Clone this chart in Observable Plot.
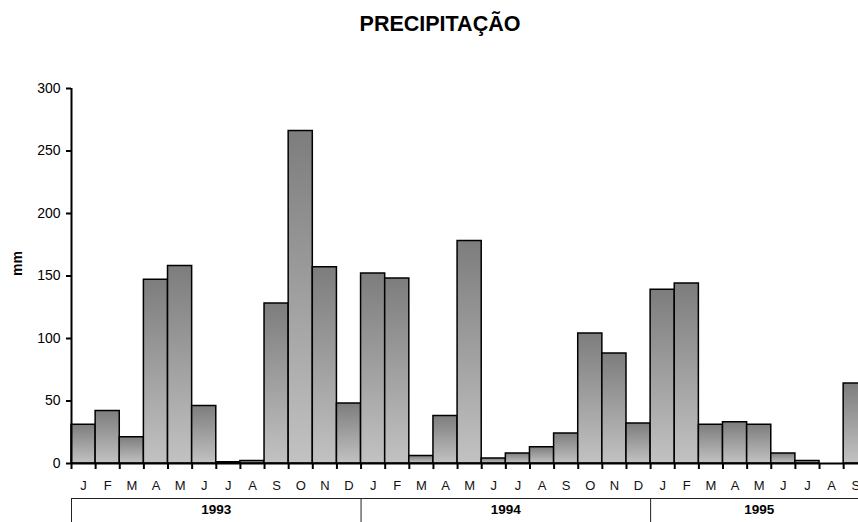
<!DOCTYPE html>
<html>
<head>
<meta charset="utf-8">
<script src="https://cdn.jsdelivr.net/npm/d3@7"></script>
<script src="https://cdn.jsdelivr.net/npm/@observablehq/plot@0.6"></script>
<style>
  html, body { margin: 0; padding: 0; background: #fff; overflow: hidden; }
  #chart svg { overflow: hidden; }
</style>
</head>
<body>
<div id="chart"></div>
<script>
// Monthly precipitation (mm), January 1993 – September 1995
const monthLetters = ["J", "F", "M", "A", "M", "J", "J", "A", "S", "O", "N", "D"];
const years = [1993, 1994, 1995];
const precip1993 = [31, 42, 21, 147, 158, 46, 1, 2, 128, 266, 157, 48];
const precip1994 = [152, 148, 6, 38, 178, 4, 8, 13, 24, 104, 88, 32];
const precip1995 = [139, 144, 31, 33, 31, 8, 2, 0, 64];
const yTicks = [0, 50, 100, 150, 200, 250, 300];
const titleText = "PRECIPITAÇÃO";
const yLabel = "mm";

// One row per month, indexed along a continuous month axis
const series = [precip1993, precip1994, precip1995];
const rows = [];
series.forEach((values, k) => {
  values.forEach((v, m) => {
    rows.push({i: rows.length, year: years[k], month: monthLetters[m], value: v});
  });
});

// Year groups: first month index and number of months shown
const yearGroups = [];
{
  let start = 0;
  series.forEach((values, k) => {
    yearGroups.push({year: years[k], start, count: values.length, center: start + values.length / 2});
    start += values.length;
  });
}
const boundaries = d3.range(rows.length + 1);

const W = 858, H = 522;
const mLeft = 71, mTop = 88, mBottom = 59;
const monthWidth = 24.13;

const chart = Plot.plot({
  width: W,
  height: H,
  marginLeft: mLeft,
  marginRight: 0,
  marginTop: mTop,
  marginBottom: mBottom,
  style: {fontFamily: "'Liberation Sans', Arial, sans-serif", color: "#000", background: "#fff"},
  x: {type: "linear", domain: [0, rows.length], range: [mLeft, mLeft + rows.length * monthWidth], label: null},
  y: {domain: [0, 300], label: null},
  marks: [
    Plot.rectY(rows, {
      x1: "i",
      x2: d => d.i + 1,
      y: "value",
      fill: "url(#precipGradient)",
      stroke: "#000",
      strokeWidth: 1.5
    }),
    // axis lines
    Plot.ruleX([0], {stroke: "#000", strokeWidth: 2}),
    Plot.ruleY([0], {stroke: "#000", strokeWidth: 2}),
    Plot.axisY(yTicks, {
      tickSize: 5,
      tickPadding: 6,
      strokeWidth: 2,
      fontSize: 14,
      tickFormat: d => String(d)
    }),
    // month boundary ticks
    Plot.axisX(boundaries, {
      tickSize: 6,
      strokeWidth: 2,
      tickFormat: () => ""
    }),
    // month letters
    Plot.text(rows, {
      x: d => d.i + 0.5,
      text: "month",
      frameAnchor: "bottom",
      lineAnchor: "middle",
      dy: 22,
      fontSize: 13,
      fill: "#111"
    }),
    // year group box
    Plot.ruleY([0], {dy: 35, stroke: "#222", strokeWidth: 1}),
    Plot.ruleX(yearGroups, {x: "start", insetTop: 410, insetBottom: -60, stroke: "#222", strokeWidth: 1}),
    Plot.text(yearGroups, {
      x: "center",
      text: d => String(d.year),
      frameAnchor: "bottom",
      lineAnchor: "middle",
      dy: 46,
      fontSize: 13.5,
      fontWeight: "bold"
    }),
    // y label
    Plot.text([yLabel], {
      frameAnchor: "left",
      dx: -54,
      rotate: -90,
      fontSize: 14,
      fontWeight: "bold"
    }),
    // title
    Plot.text([titleText], {
      frameAnchor: "top",
      dx: -25,
      dy: -64,
      lineAnchor: "middle",
      fontSize: 21.5,
      fontWeight: "bold"
    })
  ]
});

// Vertical gradient applied to each bar
const defs = d3.select(chart).insert("defs", ":first-child");
const grad = defs.append("linearGradient")
  .attr("id", "precipGradient")
  .attr("x1", 0).attr("y1", 0).attr("x2", 0).attr("y2", 1);
grad.append("stop").attr("offset", "0%").attr("stop-color", "#7d7d7d");
grad.append("stop").attr("offset", "100%").attr("stop-color", "#c2c2c2");

document.getElementById("chart").appendChild(chart);
</script>
</body>
</html>
